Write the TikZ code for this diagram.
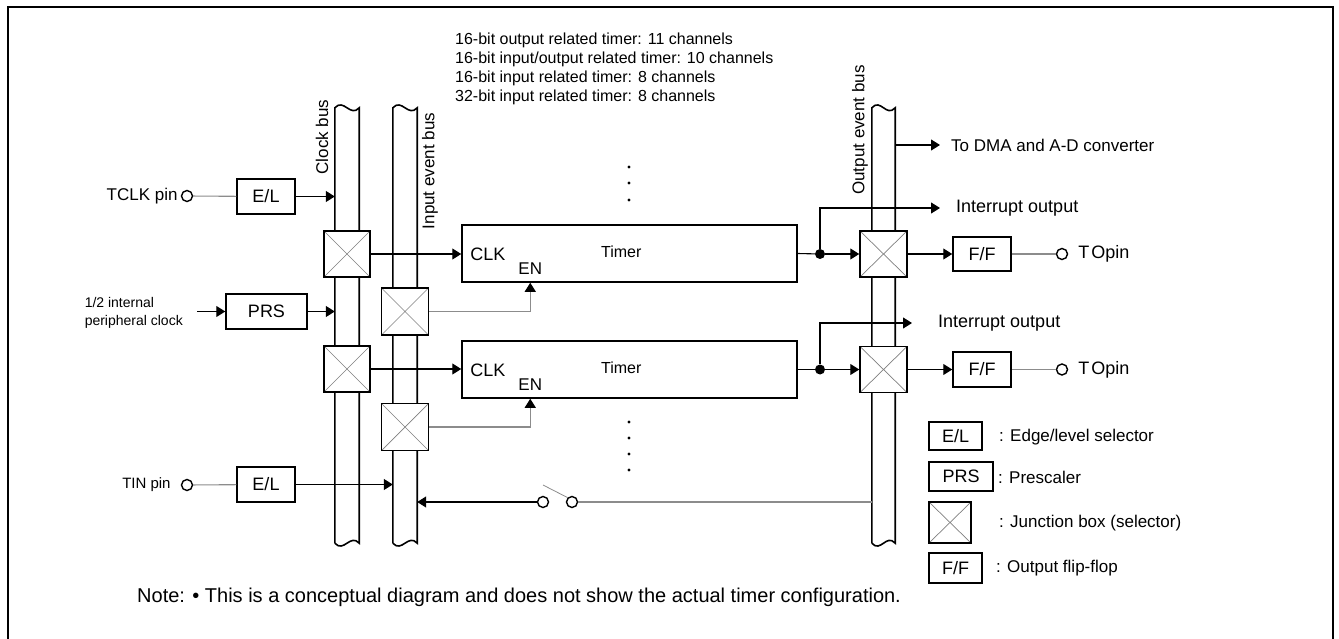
\documentclass[tikz,border=0pt]{standalone}
\usepackage{fontspec}
\setmainfont{Liberation Sans}
\usetikzlibrary{arrows.meta,positioning,calc}

\tikzset{
  blk/.style={draw, line width=1.5pt, fill=white, inner sep=0pt, font=\fontsize{18}{20}\selectfont},
  jbox/.style={draw, line width=1.5pt, fill=white, minimum width=46pt, minimum height=46pt, inner sep=0pt,
    path picture={\draw[gray, line width=0.7pt]
      (path picture bounding box.south west) -- (path picture bounding box.north east)
      (path picture bounding box.north west) -- (path picture bounding box.south east);}},
  bus/.style={minimum width=24pt, minimum height=435pt, inner sep=0pt},
  wire/.style={line width=1.1pt},
  gwire/.style={line width=1.1pt, draw=black!45},
  sig/.style={wire, -{Triangle[length=9pt,width=11pt]}},
  pin/.style={circle, draw, line width=1.4pt, minimum size=11pt, inner sep=0pt, fill=white},
  jdot/.style={circle, fill, minimum size=10pt, inner sep=0pt},
  txt/.style={inner sep=0pt, font=\fontsize{17}{20}\selectfont},
  small/.style={inner sep=0pt, font=\fontsize{14}{18}\selectfont},
}

\begin{document}
\begin{tikzpicture}[x=1pt, y=-1pt]
  \useasboundingbox (0,0) rectangle (1339,639);
  \draw[line width=2pt] (8,650) -- (8,7) -- (1333,7) -- (1333,650);

  % buses
  \node[bus] (clkbus) at (347,325.5) {};
  \node[bus] (inbus)  at (405,325.5) {};
  \node[bus, minimum width=23pt] (outbus) at (883.5,325.5) {};
  \foreach \b in {clkbus,inbus,outbus}
    \draw[line width=1.6pt] (\b.south west) -- (\b.north west)
      .. controls ($(\b.north west)+(9,-10)$) and ($(\b.north east)+(-9,10)$) .. (\b.north east)
      -- (\b.south east)
      .. controls ($(\b.south east)+(-9,-10)$) and ($(\b.south west)+(9,10)$) .. (\b.south west);
  \node[txt, rotate=90] at (322,137) {Clock bus};
  \node[txt, rotate=90] at (430,171) {Input event bus};
  \node[txt, rotate=90] at (860,130) {Output event bus};

  \node[small, align=left, anchor=north west, font=\fontsize{16}{19}\selectfont] (chans) at (455,33)
    {16-bit output related timer: 11 channels\\16-bit input/output related timer: 10 channels\\
     16-bit input related timer: 8 channels\\32-bit input related timer: 8 channels};

  % inputs
  \node[pin] (tclkpin) at (187,196) {};
  \node[txt, left=3pt of tclkpin] {TCLK pin};
  \node[blk, minimum width=58pt, minimum height=35pt] (el1) at (266,196.5) {E/L};
  \coordinate (clkin) at (197,311.5);
  \node[small, align=left, anchor=east] at (183,313) {1/2 internal\\peripheral clock};
  \node[blk, minimum width=81pt, minimum height=35pt] (prs) at (266.5,311.5) {PRS};
  \node[pin] (tinpin) at (187,485) {};
  \node[small, font=\fontsize{15}{18}\selectfont, left=10pt of tinpin] {TIN pin};
  \node[blk, minimum width=58pt, minimum height=35pt] (el2) at (266,484.5) {E/L};

  \draw[gwire] (tclkpin) -- (el1);
  \draw[sig] (el1.east) -- (el1.east -| clkbus.west);
  \draw[sig] (clkin) -- (prs.west);
  \draw[sig] (prs.east) -- (prs.east -| clkbus.west);
  \draw[gwire] (tinpin) -- (el2);
  \draw[sig] (el2.east) -- (el2.east -| inbus.west);

  % timers
  \foreach \i/\y in {1/253.5,2/369.5} {
    \node[draw, line width=1.5pt, minimum width=335pt, minimum height=57pt, inner sep=0pt] (timer\i) at (629.5,\y) {};
    \node[txt, font=\fontsize{18}{20}\selectfont, anchor=west] at ($(timer\i.west)+(9,1)$) {CLK};
    \node[txt] at ($(timer\i.west)+(69,15)$) {EN};
    \node[txt, font=\fontsize{16}{18}\selectfont] at ($(timer\i.west)+(160,-2)$) {Timer};
    \coordinate (en\i) at ($(timer\i.south west)+(69,0)$);
  }
  \node[jbox] (jc1) at (347,254) {};
  \node[jbox] (jc2) at (347,369) {};
  \node[jbox, minimum width=47pt, minimum height=47pt] (ji1) at (405,311.5) {};
  \node[jbox, minimum width=47pt, minimum height=47pt] (ji2) at (405,427) {};
  \foreach \i in {1,2} {
    \draw[sig] (jc\i.east) -- (jc\i.east -| timer\i.west);
    \draw[gwire, -{Triangle[length=9pt,width=11pt,color=black]}] (ji\i.east) -| (en\i);
  }

  \foreach \y in {167,183,200} \fill (629,\y) circle (1.6pt);
  \foreach \y in {422,438,454,470} \fill (629,\y) circle (1.6pt);

  % outputs
  \node[jbox, minimum width=47pt] (jo1) at (883.5,254) {};
  \node[jbox, minimum width=47pt] (jo2) at (883.5,369.5) {};
  \node[jdot] (dot1) at (820,254) {};
  \node[jdot] (dot2) at (820,369.5) {};
  \coordinate (irq1) at (940,208);
  \coordinate (irq2) at (912,323);
  \node[txt, font=\fontsize{18}{20}\selectfont, right=16pt of irq1] {Interrupt output};
  \node[txt, font=\fontsize{18}{20}\selectfont, right=26pt of irq2] {Interrupt output};
  \coordinate (dma) at (940,145);
  \node[txt, right=11pt of dma] {To DMA and A-D converter};
  \draw[sig] (outbus.east |- dma) -- (dma);

  \foreach \i in {1,2} {
    \draw[wire] (timer\i.east) -- (dot\i);
    \draw[sig] (dot\i) -- (jo\i.west);
    \draw[sig] (dot\i) |- (irq\i);
  }
  \node[blk, minimum width=58pt, minimum height=34pt] (ff1) at (982,254) {F/F};
  \node[blk, minimum width=58pt, minimum height=35pt] (ff2) at (982,369.5) {F/F};
  \node[pin] (topin1) at (1062,254) {};
  \node[pin] (topin2) at (1062,369.5) {};
  \foreach \i in {1,2} {
    \draw[sig] (jo\i.east) -- (ff\i.west);
    \draw[gwire] (ff\i.east) -- (topin\i);
    \node[txt, font=\fontsize{18}{20}\selectfont, right=10pt of topin\i] {T\kern2pt Opin};
  }

  % feedback switch
  \node[pin] (sw1) at (543,502) {};
  \node[pin] (sw2) at (572,502) {};
  \draw[gwire] (outbus.west |- sw2) -- (sw2);
  \draw[gwire, line width=0.8pt] ([yshift=17pt]sw1.center) -- (sw2.north west);
  \draw[sig] (sw1) -- (sw1 -| inbus.east);

  % legend
  \node[blk, minimum width=53pt, minimum height=28pt] (lel) at (955.5,436) {E/L};
  \node[txt, anchor=west] at (999,437) {: Edge/level selector};
  \node[blk, minimum width=64pt, minimum height=29pt] (lprs) at (961,476.5) {PRS};
  \node[txt, anchor=west] at (998,477) {: Prescaler};
  \node[jbox, minimum width=42pt, minimum height=41pt] (ljb) at (950,522.5) {};
  \node[txt, anchor=west] at (999,523) {: Junction box (selector)};
  \node[blk, minimum width=53pt, minimum height=30pt] (lff) at (955.5,568) {F/F};
  \node[txt, anchor=west] at (996,568) {: Output flip-flop};

  \node[txt, font=\fontsize{20}{22}\selectfont, anchor=west] (note) at (137,597)
    {Note: \textbullet\ This is a conceptual diagram and does not show the actual timer configuration.};
\end{tikzpicture}
\end{document}
